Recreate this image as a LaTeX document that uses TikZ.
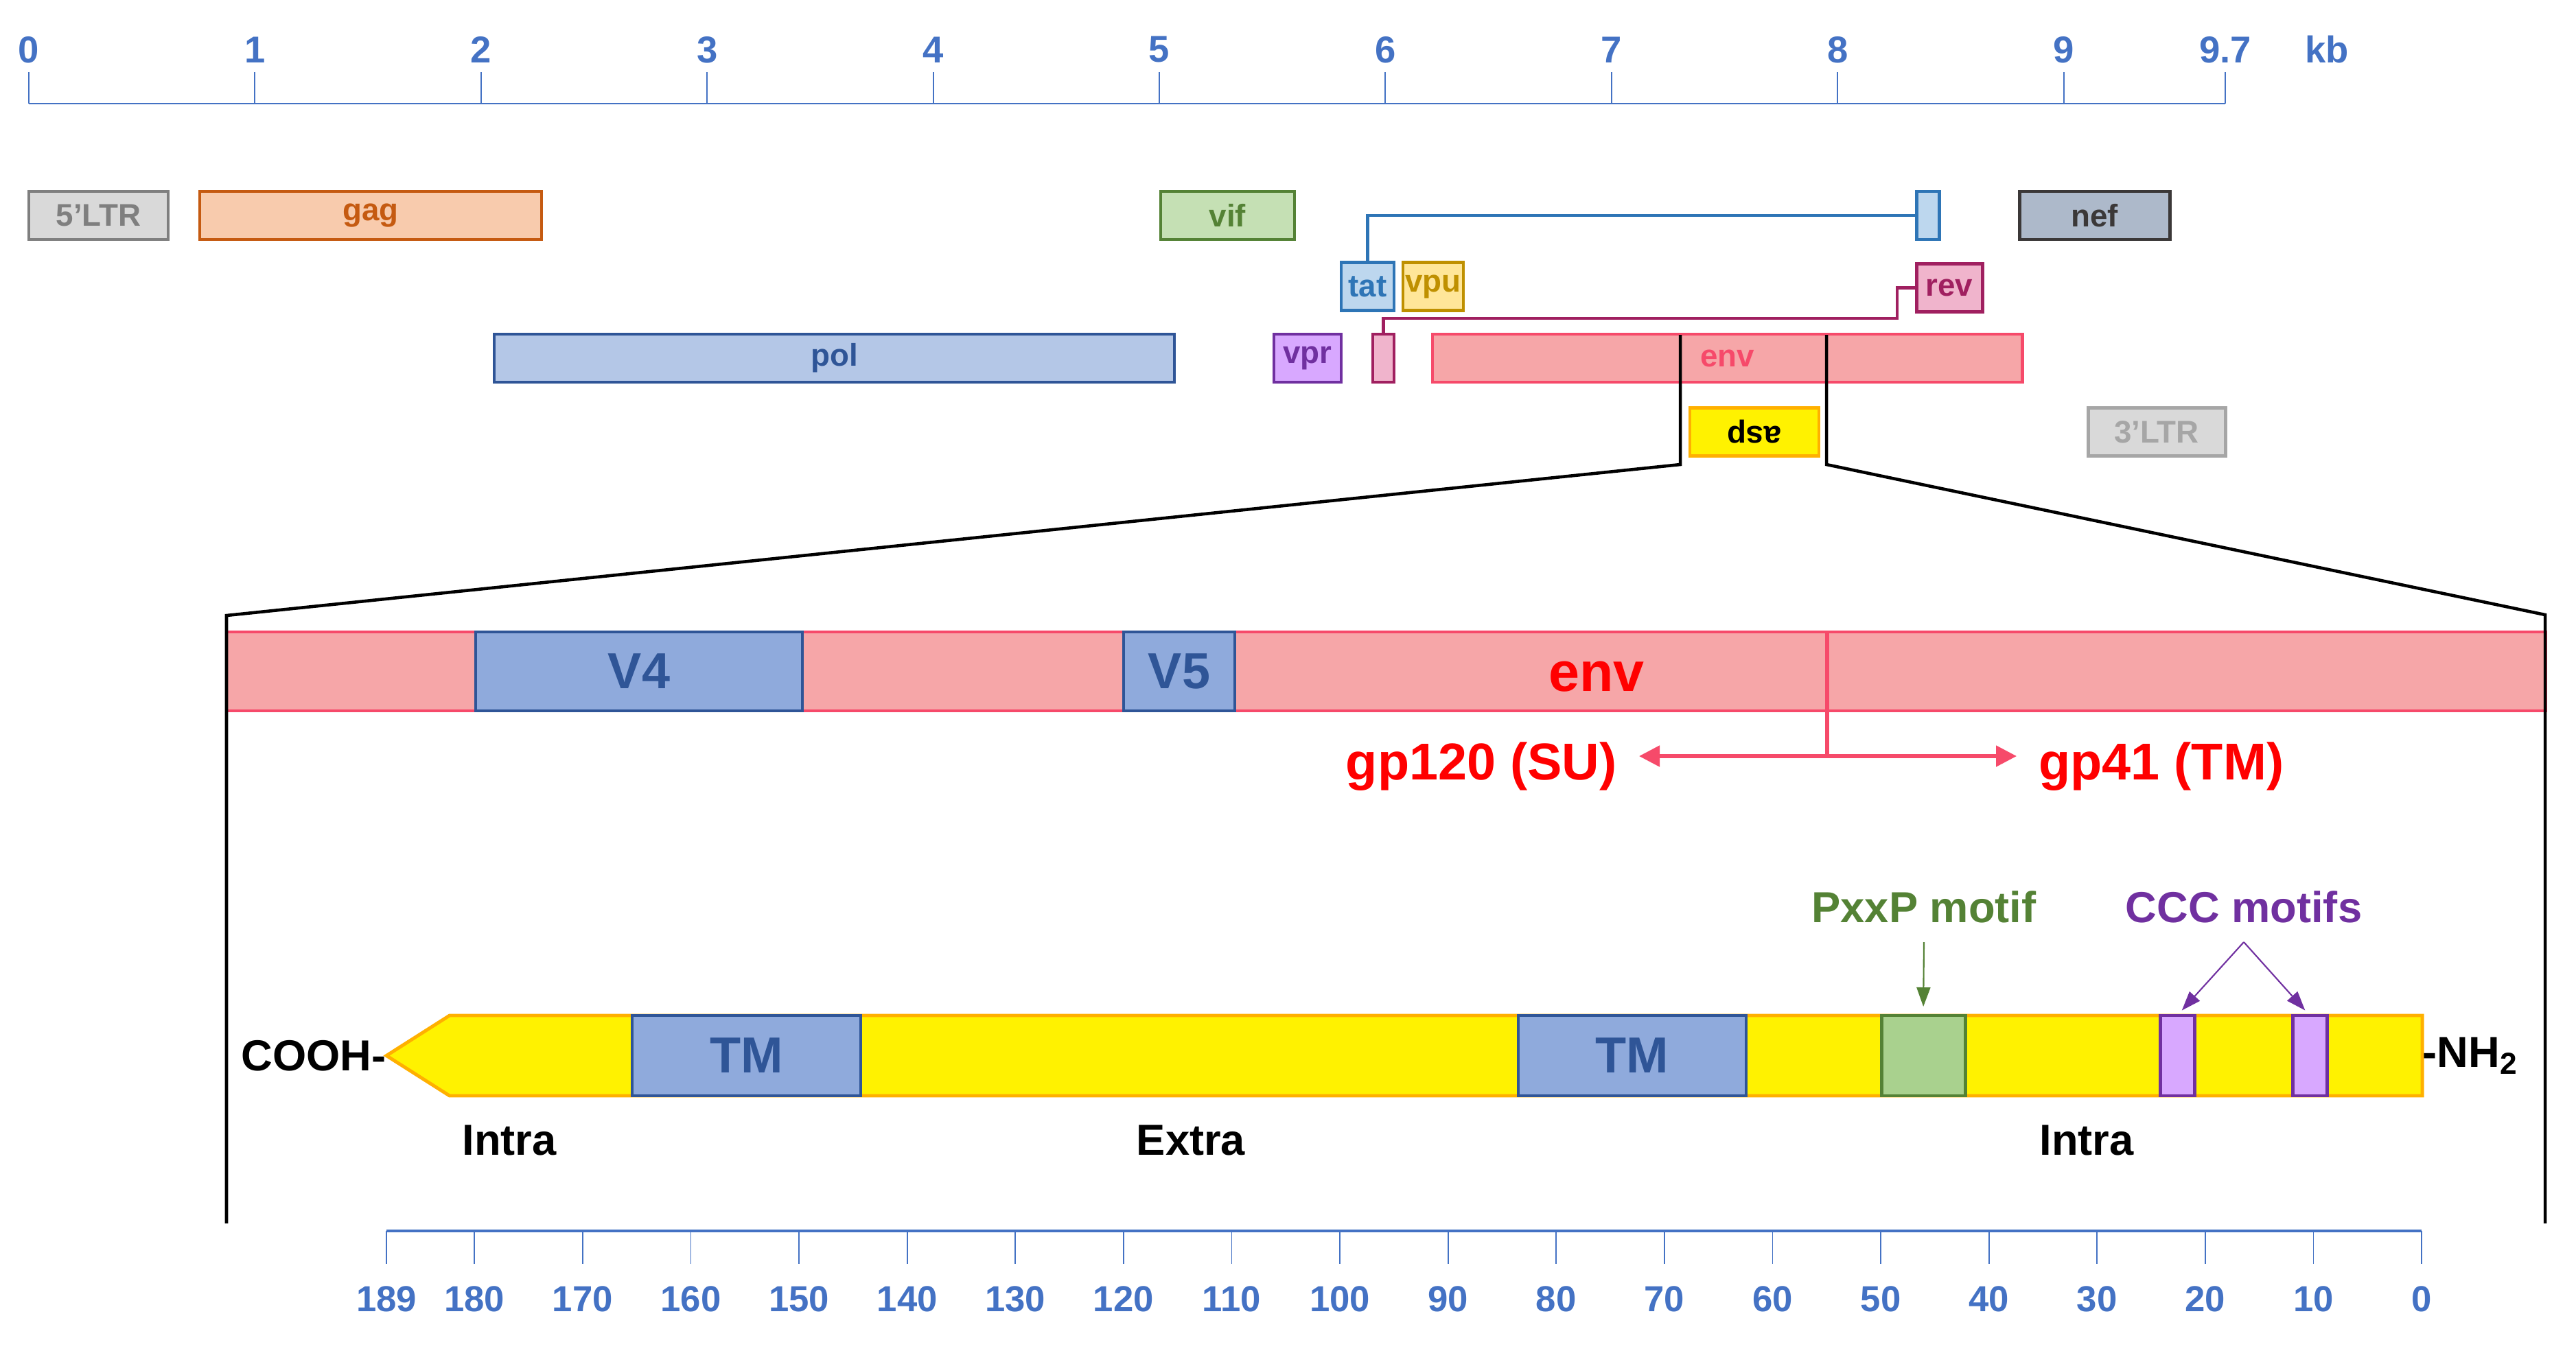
\documentclass[tikz,border=0pt]{standalone}
\usepackage{fontspec}
\setmainfont{Liberation Sans}
\usepackage{graphicx}
\usetikzlibrary{arrows.meta,positioning}

\definecolor{kbblue}{HTML}{4472C4}
\definecolor{ltrdraw}{HTML}{7F7F7F}
\definecolor{ltrlight}{HTML}{A6A6A6}
\definecolor{ltrfill}{HTML}{D9D9D9}
\definecolor{gagdraw}{HTML}{C55A11}
\definecolor{gagfill}{HTML}{F8CBAD}
\definecolor{vifdraw}{HTML}{548235}
\definecolor{viffill}{HTML}{C5E0B4}
\definecolor{tatdraw}{HTML}{2E75B6}
\definecolor{tatfill}{HTML}{BDD7EE}
\definecolor{vpudraw}{HTML}{BF9000}
\definecolor{vpufill}{HTML}{FFE699}
\definecolor{revdraw}{HTML}{A02060}
\definecolor{revfill}{HTML}{F0B4CC}
\definecolor{poldraw}{HTML}{2F5597}
\definecolor{polfill}{HTML}{B4C7E7}
\definecolor{vprdraw}{HTML}{7030A0}
\definecolor{vprfill}{HTML}{D8A8FF}
\definecolor{nefdraw}{HTML}{3B3838}
\definecolor{neffill}{HTML}{ADB9CA}
\definecolor{envdraw}{HTML}{F64A6A}
\definecolor{envfill}{HTML}{F6A6A8}
\definecolor{aspdraw}{HTML}{FFB000}
\definecolor{tmfill}{HTML}{8FAADC}
\definecolor{pxxpfill}{HTML}{A9D18E}
\definecolor{gpred}{HTML}{FF0000}

\begin{document}
\begin{tikzpicture}[x=1cm, y=-1cm,
  gene/.style 2 args={draw=#1, fill=#2, text=#1, line width=1.4pt, inner sep=0pt,
    outer sep=0pt, minimum height=0.7cm, font=\bfseries\fontsize{13}{15}\selectfont},
  kbnum/.style={text=kbblue, font=\bfseries\fontsize{15.5}{18}\selectfont},
  aanum/.style={text=kbblue, font=\bfseries\fontsize{15}{18}\selectfont},
  axis/.style={draw=kbblue, line width=0.8pt},
  tick/.style={draw=kbblue, line width=0.6pt},
  zoomline/.style={draw=black, line width=1.3pt},
  domain/.style 2 args={draw=#1, fill=#2, text=poldraw, line width=1.4pt, inner sep=0pt,
    outer sep=0pt, font=\bfseries\fontsize{21}{24}\selectfont},
  cleave/.style={draw=envdraw, line width=1.5pt},
  gptext/.style={text=gpred, font=\bfseries\fontsize{21.5}{25}\selectfont},
  sidetext/.style={font=\bfseries\fontsize{18}{21}\selectfont},
  motif/.style={font=\bfseries\fontsize{18}{21}\selectfont},
]
\useasboundingbox (0,0) rectangle (37.53,19.68);

% genome scale in kb
\draw[axis] (0.42,1.51) -- (32.42,1.51);
\foreach \k in {0,...,9} {
  \draw[tick] ({0.42+3.294*\k},1.51) -- ++(0,-0.46);
  \node[kbnum] (kb\k) at ({0.42+3.294*\k},0.725) {\k};
}
\draw[tick] (32.42,1.51) -- ++(0,-0.46);
\node[kbnum] (kbend) at (32.42,0.725) {9.7};
\node[kbnum] (kbunit) at (33.90,0.725) {kb};

% genes
\node[gene={ltrdraw}{ltrfill}, minimum width=2.03cm] (ltr5) at (1.435,3.14) {5’LTR};
\node[gene={gagdraw}{gagfill}, minimum width=4.98cm] (gag) at (5.40,3.14) {gag};
\node[gene={vifdraw}{viffill}, minimum width=1.95cm] (vif) at (17.885,3.14) {vif};
\node[gene={tatdraw}{tatfill}, minimum width=0.33cm] (tatx) at (28.085,3.14) {};
\node[gene={nefdraw}{neffill}, minimum width=2.19cm] (nef) at (30.515,3.14) {nef};
\node[gene={tatdraw}{tatfill}, minimum width=0.77cm] (tat) at (19.925,4.175) {tat};
\node[gene={vpudraw}{vpufill}, minimum width=0.88cm] (vpu) at (20.88,4.175) {vpu};
\node[gene={revdraw}{revfill}, minimum width=0.96cm] (rev) at (28.40,4.195) {rev};
\node[gene={poldraw}{polfill}, minimum width=9.91cm] (pol) at (12.155,5.22) {pol};
\node[gene={vprdraw}{vprfill}, minimum width=0.98cm] (vpr) at (19.05,5.22) {vpr};
\node[gene={revdraw}{revfill}, minimum width=0.31cm] (revx) at (20.155,5.22) {};
\node[gene={envdraw}{envfill}, minimum width=8.59cm] (env) at (25.165,5.22) {env};
\node[gene={aspdraw}{yellow}, text=black, minimum width=1.88cm] (asp) at (25.56,6.295) {\rotatebox{180}{asp}};
\node[gene={ltrlight}{ltrfill}, minimum width=2.00cm] (ltr3) at (31.42,6.295) {3’LTR};

% splicing
\coordinate (revbend) at (27.64,4.64);
\draw[tatdraw, line width=1.2pt] (tat.north) |- (tatx.west);
\draw[revdraw, line width=1.2pt] (revx.north) |- (revbend) |- (rev.west);

% enlarged env
\node[draw=envdraw, fill=envfill, line width=1.4pt, inner sep=0pt, outer sep=0pt,
  minimum width=33.78cm, minimum height=1.15cm] (envbar) at (20.19,9.785) {};
\node[domain={poldraw}{tmfill}, minimum width=4.76cm, minimum height=1.15cm] (v4) at (9.31,9.785) {V4};
\node[domain={poldraw}{tmfill}, minimum width=1.62cm, minimum height=1.15cm] (v5) at (17.18,9.785) {V5};
\node[text=gpred, font=\bfseries\fontsize{23}{26}\selectfont] (envlab) at (23.26,9.86) {env};

\coordinate (cutL) at (24.48,4.88);
\coordinate (kneeL) at (24.48,6.77);
\coordinate (frameL) at (3.30,8.97);
\coordinate (footL) at (3.30,17.83);
\coordinate (cutR) at (26.61,4.88);
\coordinate (kneeR) at (26.61,6.77);
\coordinate (frameR) at (37.08,8.96);
\coordinate (footR) at (37.08,17.83);
\draw[zoomline] (cutL) -- (kneeL) -- (frameL) -- (footL);
\draw[zoomline] (cutR) -- (kneeR) -- (frameR) -- (footR);

\coordinate (cut) at (26.62,9.22);
\coordinate (split) at (26.62,11.02);
\coordinate (gpl) at (23.88,11.02);
\coordinate (gpr) at (29.38,11.02);
\draw[cleave] (cut) -- (split);
\draw[cleave, -{Triangle[length=0.3cm, width=0.3cm]}] (split) -- (gpl);
\draw[cleave, -{Triangle[length=0.3cm, width=0.3cm]}] (split) -- (gpr);
\node[gptext, left=0.2cm of gpl, yshift=-0.15cm] (gp120) {gp120 (SU)};
\node[gptext, right=0.2cm of gpr, yshift=-0.15cm] (gp41) {gp41 (TM)};

% gp41 protein
\coordinate (tipC) at (5.63,15.385);
\coordinate (endN) at (35.29,15.385);
\draw[draw=aspdraw, fill=yellow, line width=1.4pt]
  (endN |- 0,14.80) -- (6.55,14.80) -- (tipC) -- (6.55,15.97) -- (endN |- 0,15.97) -- cycle;
\node[domain={poldraw}{tmfill}, minimum width=3.33cm, minimum height=1.17cm] (tm1) at (10.875,15.385) {TM};
\node[domain={poldraw}{tmfill}, minimum width=3.32cm, minimum height=1.17cm] (tm2) at (23.78,15.385) {TM};
\node[domain={vifdraw}{pxxpfill}, minimum width=1.22cm, minimum height=1.17cm] (pxxp) at (28.02,15.385) {};
\node[domain={vprdraw}{vprfill}, minimum width=0.50cm, minimum height=1.17cm] (ccc1) at (31.72,15.385) {};
\node[domain={vprdraw}{vprfill}, minimum width=0.50cm, minimum height=1.17cm] (ccc2) at (33.65,15.385) {};
\node[sidetext, anchor=east, inner sep=0pt] (cooh) at (tipC) {COOH-};
\node[sidetext, anchor=west, inner sep=0pt] (nh2) at (endN) {-NH\textsubscript{2}};
\node[sidetext] (intra1) at (7.42,16.62) {Intra};
\node[sidetext] (extra) at (17.35,16.62) {Extra};
\node[sidetext] (intra2) at (30.40,16.62) {Intra};

\node[motif, text=vifdraw] (pxxplab) at (28.03,13.22) {PxxP motif};
\node[motif, text=vprdraw] (ccclab) at (32.69,13.22) {CCC motifs};
\coordinate (pxxptop) at (28.03,13.73);
\coordinate (ccctop) at (32.69,13.73);
\draw[vifdraw, line width=0.6pt, -{Triangle[length=0.28cm, width=0.2cm]}, shorten >=0.13cm] (pxxptop) -- (pxxp.north);
\draw[vprdraw, line width=0.6pt, -{Triangle[length=0.28cm, width=0.2cm]}, shorten >=0.1cm] (ccctop) -- (ccc1.north);
\draw[vprdraw, line width=0.6pt, -{Triangle[length=0.28cm, width=0.2cm]}, shorten >=0.1cm] (ccctop) -- (ccc2.north);

% residue scale
\draw[axis, line width=0.9pt] (5.63,17.94) -- (35.28,17.94);
\draw[tick, line width=0.5pt] (5.63,17.94) -- ++(0,0.48);
\node[aanum] (aa189) at (5.63,18.93) {189};
\foreach \v in {0,10,...,180} {
  \draw[tick, line width=0.5pt] ({35.28-0.1576*\v},17.94) -- ++(0,0.48);
  \node[aanum] (aa\v) at ({35.28-0.1576*\v},18.93) {\v};
}
\end{tikzpicture}
\end{document}
